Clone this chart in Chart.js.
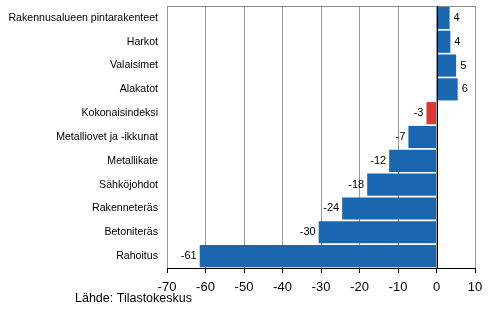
<!DOCTYPE html>
<html>
<head>
<meta charset="utf-8">
<script src="https://cdn.jsdelivr.net/npm/chart.js@4/dist/chart.umd.min.js"></script>
<style>
  html, body { margin: 0; padding: 0; background: #fff; }
  #wrap { width: 492px; height: 322px; }
</style>
</head>
<body>
<div id="wrap"><canvas id="graphic"></canvas></div>
<script>
const categories = [
    'Rakennusalueen pintarakenteet',
    'Harkot',
    'Valaisimet',
    'Alakatot',
    'Kokonaisindeksi',
    'Metalliovet ja -ikkunat',
    'Metallikate',
    'Sähköjohdot',
    'Rakenneteräs',
    'Betoniteräs',
    'Rahoitus'
];
// bar lengths
const values = [3.4, 3.6, 5.1, 5.5, -2.6, -7.3, -12.3, -18.0, -24.5, -30.6, -61.5];
// labels printed next to the bars
const valueLabels = ['4', '4', '5', '6', '-3', '-7', '-12', '-18', '-24', '-30', '-61'];
const xMin = -70;
const xMax = 10;
const source = 'Lähde: Tilastokeskus';

const blue = '#1a67b0';
const red = '#dd3434';
const colors = categories.map((c) => c === 'Kokonaisindeksi' ? red : blue);

const font = 'Arial, "Liberation Sans", sans-serif';

const frame = {
    id: 'frame',
    afterDraw(chart) {
        const ctx = chart.ctx;
        const a = chart.chartArea;
        ctx.save();
        ctx.strokeStyle = '#8c8c8c';
        ctx.lineWidth = 1;
        ctx.beginPath();
        ctx.moveTo(a.left, a.top + 0.5);
        ctx.lineTo(a.right, a.top + 0.5);
        ctx.stroke();
        // zero line over the bars
        const x0 = Math.round(chart.scales.x.getPixelForValue(0)) + 0.5;
        ctx.strokeStyle = '#000';
        ctx.beginPath();
        ctx.moveTo(x0, a.top);
        ctx.lineTo(x0, a.bottom);
        ctx.stroke();
        ctx.fillStyle = '#000';
        ctx.font = '12.5px ' + font;
        ctx.textBaseline = 'middle';
        ctx.textAlign = 'left';
        ctx.fillText(source, 75, 299);
        ctx.restore();
    }
};

const barLabels = {
    id: 'barLabels',
    afterDatasetsDraw(chart) {
        const ctx = chart.ctx;
        const meta = chart.getDatasetMeta(0);
        ctx.save();
        ctx.fillStyle = '#000';
        ctx.font = '11px ' + font;
        ctx.textBaseline = 'middle';
        meta.data.forEach((bar, i) => {
            if (values[i] >= 0) {
                ctx.textAlign = 'left';
                ctx.fillText(valueLabels[i], bar.x + 4, bar.y);
            } else {
                ctx.textAlign = 'right';
                ctx.fillText(valueLabels[i], bar.x - 3, bar.y);
            }
        });
        ctx.restore();
    }
};

const ctx = document.querySelector('#graphic').getContext('2d');
new Chart(ctx, {
    type: 'bar',
    data: {
        labels: categories,
        datasets: [
            {
                data: values,
                backgroundColor: colors,
                borderWidth: 0,
                barPercentage: 0.93,
                categoryPercentage: 1
            }
        ]
    },
    options: {
        indexAxis: 'y',
        responsive: true,
        maintainAspectRatio: false,
        animation: false,
        layout: {
            padding: { top: 6, right: 17, left: 0, bottom: 0 }
        },
        plugins: {
            legend: { display: false },
            tooltip: { enabled: false }
        },
        scales: {
            x: {
                min: xMin,
                max: xMax,
                ticks: {
                    stepSize: 10,
                    color: '#000',
                    padding: 7,
                    font: { size: 13, family: font },
                    maxRotation: 0
                },
                grid: {
                    color: '#999',
                    tickColor: '#000',
                    tickLength: 5,
                    drawTicks: true
                },
                border: { color: '#000', width: 1 },
                afterFit: (scale) => {
                    scale.height = 54;
                    scale.paddingLeft = 0;
                    scale.paddingRight = 0;
                }
            },
            y: {
                ticks: {
                    color: '#000',
                    padding: 9,
                    font: { size: 10.6, family: font },
                    autoSkip: false
                },
                grid: { display: false, drawTicks: false },
                border: { display: false },
                afterFit: (scale) => {
                    scale.width = 167;
                    scale.paddingTop = 0;
                    scale.paddingBottom = 0;
                }
            }
        }
    },
    plugins: [frame, barLabels]
});
</script>
</body>
</html>
